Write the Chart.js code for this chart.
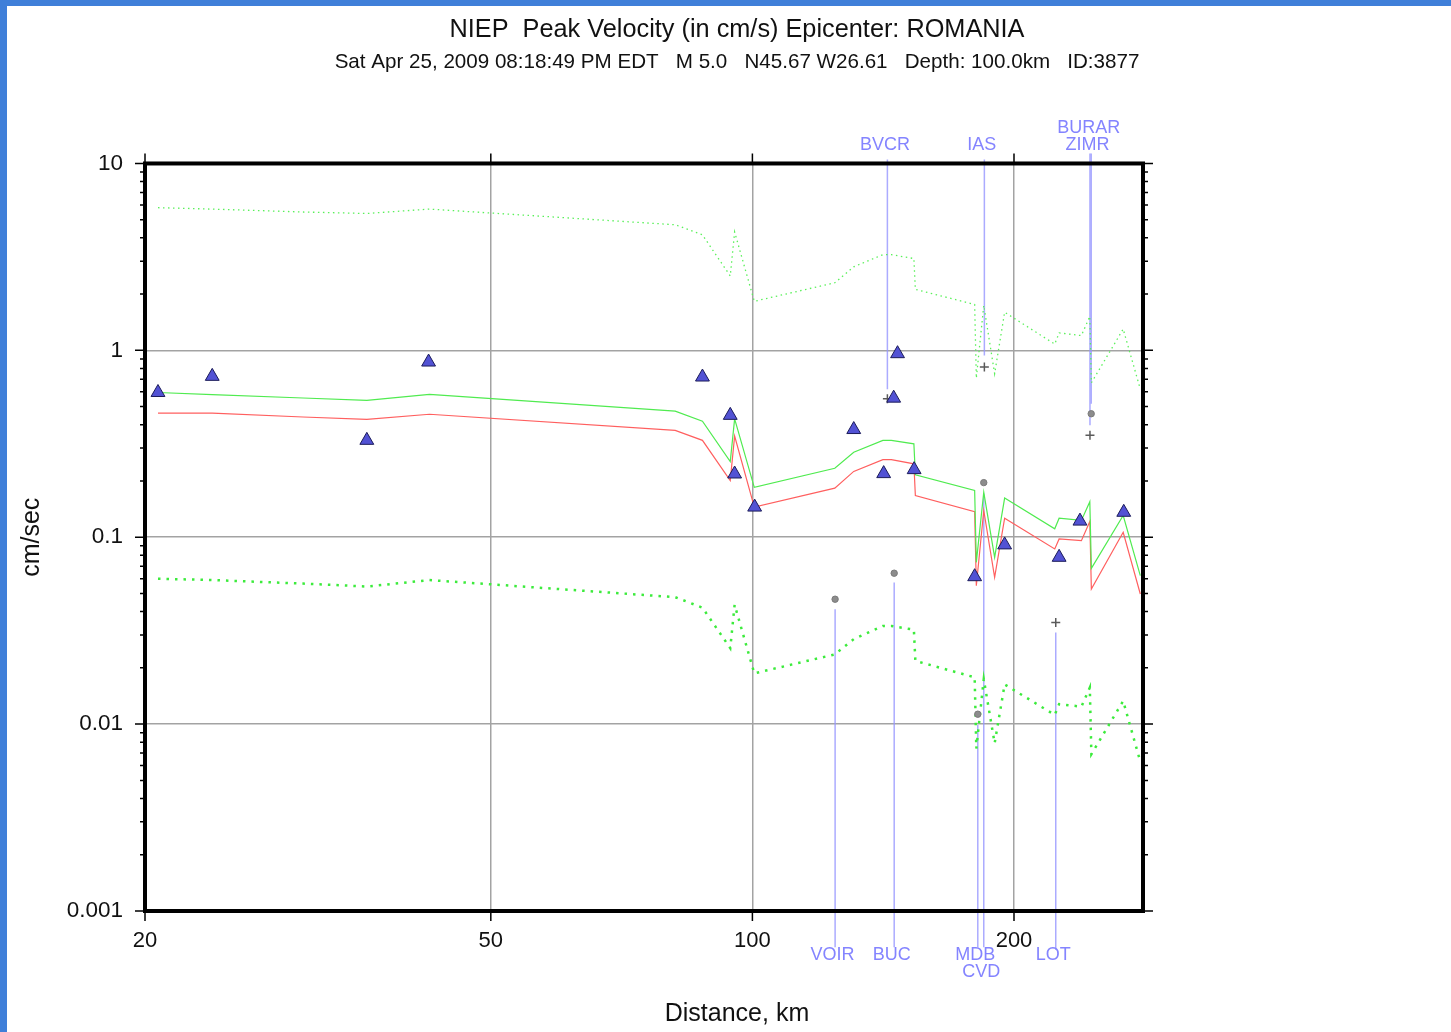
<!DOCTYPE html>
<html>
<head>
<meta charset="utf-8">
<script src="https://cdn.jsdelivr.net/npm/chart.js@4.4.1/dist/chart.umd.min.js"></script>
<style>
  html, body { margin: 0; padding: 0; }
  body { background: #3f7fd9; width: 1451px; height: 1032px; overflow: hidden; position: relative; }
  #wrap { position: absolute; left: 7px; top: 6px; width: 1444px; height: 1026px; background: #fff; }
</style>
</head>
<body>
<div id="wrap"><canvas id="pgv" width="1444" height="1026"></canvas></div>
<script>
// texts
const titleText = 'NIEP  Peak Velocity (in cm/s) Epicenter: ROMANIA';
const subText = 'Sat Apr 25, 2009 08:18:49 PM EDT   M 5.0   N45.67 W26.61   Depth: 100.0km   ID:3877';
const xTitle = 'Distance, km';
const yTitle = 'cm/sec';

// axis ticks
const xTicks = [20, 50, 100, 200];
const xTickLabels = ['20', '50', '100', '200'];
const yTicks = [0.001, 0.01, 0.1, 1, 10];
const yTickLabels = ['0.001', '0.01', '0.1', '1', '10'];

// predicted curves (km, cm/s)
const modelDist = [20.7, 23.9, 30.4, 36.0, 42.5, 81.5, 87.6, 94.3, 95.4, 100.5, 124.4, 130.8, 141.3, 144.5, 153.4, 154.0, 180.2, 181.0, 184.6, 190.0, 195.1, 222.8, 225.4, 239.1, 244.5, 245.5, 267.1, 279.5];
const greenPGV = [0.595, 0.58, 0.556, 0.540, 0.582, 0.473, 0.418, 0.254, 0.43, 0.185, 0.234, 0.285, 0.33, 0.33, 0.316, 0.216, 0.178, 0.0734, 0.174, 0.0781, 0.162, 0.111, 0.1265, 0.123, 0.155, 0.0682, 0.1307, 0.0623];
const redPGV = [0.462, 0.462, 0.44, 0.427, 0.455, 0.373, 0.33, 0.201, 0.348, 0.145, 0.183, 0.225, 0.26, 0.26, 0.247, 0.167, 0.137, 0.055, 0.139, 0.061, 0.1265, 0.0866, 0.0979, 0.0959, 0.1214, 0.0528, 0.1063, 0.0497];
const upperPGV = [5.8, 5.7, 5.5, 5.4, 5.7, 4.7, 4.15, 2.5, 4.3, 1.83, 2.3, 2.8, 3.25, 3.25, 3.1, 2.12, 1.76, 0.71, 1.74, 0.75, 1.6, 1.08, 1.24, 1.2, 1.52, 0.67, 1.3, 0.62];
const lowerPGV = [0.060, 0.059, 0.0565, 0.0545, 0.059, 0.0478, 0.042, 0.0255, 0.0435, 0.0187, 0.0236, 0.0285, 0.0335, 0.0335, 0.032, 0.0218, 0.0178, 0.0074, 0.0174, 0.0079, 0.0163, 0.0112, 0.0128, 0.0124, 0.0157, 0.0069, 0.0133, 0.0063];

// observed stations
const obsDist = [20.7, 23.9, 36.0, 42.4, 87.6, 94.3, 95.4, 100.6, 130.8, 141.6, 145.4, 146.9, 153.5, 180.2, 195.1, 225.4, 238.2, 267.5];
const obsPGV = [0.595, 0.726, 0.330, 0.866, 0.72, 0.449, 0.218, 0.145, 0.377, 0.219, 0.555, 0.96, 0.23, 0.0615, 0.091, 0.0781, 0.122, 0.136];

// flagged stations
const flagNames = ['BVCR', 'IAS', 'ZIMR', 'BURAR', 'VOIR', 'BUC', 'MDB', 'CVD', 'LOT'];
const flagDist = [143.0, 184.9, 244.6, 245.4, 124.5, 145.6, 181.7, 184.6, 223.4];
const flagPGV = [0.551, 0.814, 0.351, 0.458, 0.0466, 0.0642, 0.0113, 0.196, 0.035];
const flagMark = ['cross', 'cross', 'cross', 'circle', 'circle', 'circle', 'circle', 'circle', 'cross'];
const flagSide = ['top', 'top', 'top', 'top', 'bottom', 'bottom', 'bottom', 'bottom', 'bottom'];
const flagLineFrom = [10.5, 10.5, 11.3, 11.3, 0.00064, 0.00064, 0.00064, 0.00064, 0.00062];
const flagLineTo = [0.62, 0.94, 0.397, 0.518, 0.0412, 0.0573, 0.0099, 0.171, 0.0309];

Chart.defaults.font.family = '"Liberation Sans", Arial, sans-serif';
Chart.defaults.color = '#111';

const pts = (xs, ys) => xs.map((x, i) => ({x: x, y: ys[i]}));

function curve(ys, color, width, dash) {
    return {
        data: pts(modelDist, ys),
        showLine: true,
        borderColor: color,
        borderWidth: width,
        borderDash: dash,
        pointRadius: 0,
        tension: 0,
        fill: false
    };
}

let datasets = [];

// triangles on top
datasets.push({
    data: pts(obsDist, obsPGV),
    pointStyle: 'triangle',
    pointRadius: 8,
    backgroundColor: '#5252d4',
    borderColor: '#1c1c5a',
    borderWidth: 1
});

// grey markers
let circX = [], circY = [], crossX = [], crossY = [];
for (let i = 0; i < flagNames.length; i++) {
    if (flagMark[i] === 'circle') { circX.push(flagDist[i]); circY.push(flagPGV[i]); }
    else { crossX.push(flagDist[i]); crossY.push(flagPGV[i]); }
}
datasets.push({
    data: pts(circX, circY),
    pointStyle: 'circle',
    pointRadius: 3.2,
    backgroundColor: '#8c8c8c',
    borderColor: '#7a7a7a',
    borderWidth: 1
});
datasets.push({
    data: pts(crossX, crossY),
    pointStyle: 'cross',
    pointRadius: 4.5,
    borderColor: '#5a5a5a',
    borderWidth: 1.5
});

datasets.push(curve(greenPGV, 'rgb(80,235,80)', 1.2, []));
datasets.push(curve(redPGV, 'rgb(255,95,95)', 1.2, []));
datasets.push(curve(upperPGV, 'rgb(90,240,90)', 1.3, [1.5, 3.5]));
datasets.push(curve(lowerPGV, 'rgb(60,235,60)', 2.5, [2.5, 6]));

// station lines
for (let i = 0; i < flagNames.length; i++) {
    datasets.push({
        data: [{x: flagDist[i], y: flagLineFrom[i]}, {x: flagDist[i], y: flagLineTo[i]}],
        showLine: true,
        borderColor: 'rgba(150,150,255,0.8)',
        borderWidth: 1.5,
        pointRadius: 0,
        clip: false
    });
}

// frame, GMT-style ticks, station labels, x title
const decorPlugin = {
    id: 'decor',
    afterDraw(chart) {
        const ctx = chart.ctx;
        const area = chart.chartArea;
        const xs = chart.scales.x;
        const ys = chart.scales.y;
        ctx.save();

        // ticks
        ctx.strokeStyle = '#000';
        ctx.lineWidth = 1.5;
        ctx.beginPath();
        for (let d = -3; d <= 1; d++) {
            for (let m = 1; m <= 9; m++) {
                const v = m * Math.pow(10, d);
                if (v > 10.0001) break;
                const p = ys.getPixelForValue(v);
                const len = (m === 1) ? 10 : 5;
                ctx.moveTo(area.left - len, p); ctx.lineTo(area.left, p);
                ctx.moveTo(area.right, p); ctx.lineTo(area.right + len, p);
            }
        }
        for (let i = 0; i < xTicks.length; i++) {
            const p = xs.getPixelForValue(xTicks[i]);
            ctx.moveTo(p, area.top - 10); ctx.lineTo(p, area.top);
            ctx.moveTo(p, area.bottom); ctx.lineTo(p, area.bottom + 10);
        }
        ctx.stroke();

        // frame
        ctx.lineWidth = 4;
        ctx.strokeRect(area.left, area.top, area.right - area.left, area.bottom - area.top);

        // station labels
        ctx.font = '18px "Liberation Sans", Arial, sans-serif';
        ctx.fillStyle = '#8484ff';
        ctx.textAlign = 'center';
        ctx.textBaseline = 'middle';
        let rows = {top: [[], []], bottom: [[], []]};
        for (let i = 0; i < flagNames.length; i++) {
            const cx = xs.getPixelForValue(flagDist[i]) - 2.5;
            const w = ctx.measureText(flagNames[i]).width;
            const side = flagSide[i];
            let r = 0;
            for (; r < 1; r++) {
                const clash = rows[side][r].some(b => cx - w / 2 < b[1] + 2 && cx + w / 2 > b[0] - 2);
                if (!clash) break;
            }
            rows[side][r].push([cx - w / 2, cx + w / 2]);
            let y;
            if (side === 'top') y = area.top - 18 - r * 17;
            else y = area.bottom + 44 + r * 17;
            ctx.fillText(flagNames[i], cx, y);
        }

        // x axis title, centred on the page like the title
        ctx.font = '25px "Liberation Sans", Arial, sans-serif';
        ctx.fillStyle = '#111';
        const cxTitle = (chart.options.layout.padding.left + chart.width) / 2;
        ctx.fillText(xTitle, cxTitle, area.bottom + 103);

        ctx.restore();
    }
};

const pgvChart = new Chart(document.getElementById('pgv'), {
    type: 'scatter',
    data: {datasets: datasets},
    plugins: [decorPlugin],
    options: {
        responsive: false,
        animation: false,
        layout: {padding: {left: 16, right: 0, top: 0, bottom: 0}},
        plugins: {
            legend: {display: false},
            tooltip: {enabled: false},
            title: {
                display: true,
                text: titleText,
                font: {size: 25.3, weight: 'normal'},
                color: '#111',
                padding: {top: 9, bottom: 0}
            },
            subtitle: {
                display: true,
                text: subText,
                font: {size: 20.6, weight: 'normal'},
                color: '#111',
                padding: {top: 4.7, bottom: 88.7}
            }
        },
        scales: {
            x: {
                type: 'logarithmic',
                min: 20,
                max: 281.5,
                afterBuildTicks: (s) => { s.ticks = xTicks.map(v => ({value: v})); },
                afterFit: (s) => { s.height = 121; },
                ticks: {
                    autoSkip: false,
                    maxRotation: 0,
                    padding: 17,
                    font: {size: 22},
                    color: '#111',
                    callback: (v, i) => xTickLabels[i]
                },
                grid: {color: '#a3a3a3', lineWidth: 1.5, drawTicks: false},
                border: {display: false}
            },
            y: {
                type: 'logarithmic',
                position: 'left',
                min: 0.001,
                max: 10,
                afterBuildTicks: (s) => { s.ticks = yTicks.map(v => ({value: v})); },
                afterFit: (s) => { s.width = 122; },
                ticks: {
                    autoSkip: false,
                    padding: 22,
                    font: {size: 22.5},
                    color: '#111',
                    callback: (v, i) => yTickLabels[i]
                },
                grid: {color: '#a3a3a3', lineWidth: 1.5, drawTicks: false},
                border: {display: false},
                title: {
                    display: true,
                    text: yTitle,
                    font: {size: 25},
                    color: '#111',
                    padding: {top: -6, bottom: 0}
                }
            },
            y2: {
                type: 'linear',
                position: 'right',
                display: true,
                afterFit: (s) => { s.width = 308; },
                ticks: {display: false},
                grid: {display: false},
                border: {display: false}
            }
        }
    }
});
</script>
</body>
</html>
